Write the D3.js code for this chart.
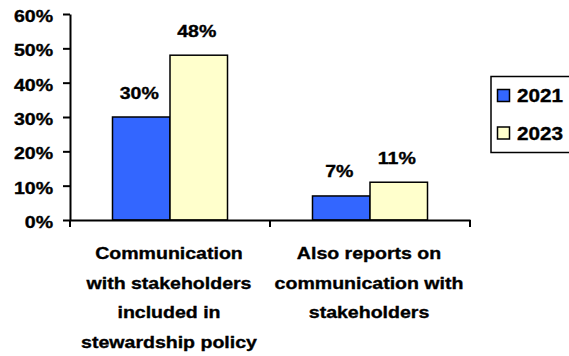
<!DOCTYPE html>
<html>
<head>
<meta charset="utf-8">
<script src="https://cdn.jsdelivr.net/npm/d3@7"></script>
<style>
  html, body { margin: 0; padding: 0; background: #fff; overflow: hidden; }
  svg { display: block; }
  text { font-family: "Liberation Sans", Arial, sans-serif; font-weight: bold; fill: #000; stroke: #000; stroke-width: 0.35px; }
</style>
</head>
<body>
<svg id="chart" width="569" height="356"></svg>
<script>
// Categories, each broken into the lines shown under the axis
const categories = ["stewardship", "reports"];
const categoryLines = [
  ["Communication", "with stakeholders", "included in", "stewardship policy"],
  ["Also reports on", "communication with", "stakeholders"]
];
const seriesNames = ["2021", "2023"];
const values2021 = [30, 7];
const values2023 = [48, 11];
const yTicks = [0, 10, 20, 30, 40, 50, 60];
const seriesColors = ["#3366FF", "#FFFFCC"];

const seriesValues = [values2021, values2023];

const svg = d3.select("#chart");
const fontSize = 17;
const stretch = 1.15;   // widen the bold face horizontally
const place = (px, py) => `translate(${px},${py}) scale(${stretch},1)`;

const x = d3.scaleBand().domain(categories).range([70, 470]).paddingInner(0).paddingOuter(0);
const xInner = d3.scaleBand().domain(seriesNames).range([0, x.bandwidth()]).paddingInner(0).paddingOuter(0.739);
const y = d3.scaleLinear().domain([0, 60]).range([220, 14]);

// Bars
const groups = svg.append("g").selectAll("g")
  .data(categories)
  .join("g")
  .attr("transform", d => `translate(${x(d)},0)`);

groups.selectAll("rect")
  .data((d, i) => seriesNames.map((s, j) => ({ s, v: seriesValues[j][i], j })))
  .join("rect")
  .attr("x", d => xInner(d.s))
  .attr("y", d => y(d.v))
  .attr("width", xInner.bandwidth())
  .attr("height", d => y(0) - y(d.v))
  .attr("fill", d => seriesColors[d.j])
  .attr("stroke", "#000")
  .attr("stroke-width", 1.5);

// Value labels above bars
groups.selectAll("text.val")
  .data((d, i) => seriesNames.map((s, j) => ({ s, v: seriesValues[j][i] })))
  .join("text")
  .attr("class", "val")
  .attr("transform", d => place(xInner(d.s) + xInner.bandwidth() / 2 - 2, y(d.v) - 18.5))
  .attr("text-anchor", "middle")
  .style("font-size", fontSize + "px")
  .text(d => d.v + "%");

// Y axis
const yAxis = svg.append("g")
  .attr("transform", "translate(70,0)")
  .call(d3.axisLeft(y).tickValues(yTicks).tickFormat(d => d + "%").tickSize(7).tickSizeOuter(0));
yAxis.select(".domain").attr("stroke", "#000").attr("stroke-width", 2);
yAxis.selectAll(".tick line").attr("stroke", "#000").attr("stroke-width", 2);
yAxis.selectAll(".tick text")
  .attr("x", 0)
  .attr("dy", null)
  .attr("transform", place(-17, 7.5))
  .style("font-size", fontSize + "px")
  .style("font-family", "\"Liberation Sans\", Arial, sans-serif")
  .style("font-weight", "bold");

// X axis with ticks at category boundaries
const xAxis = svg.append("g")
  .attr("transform", `translate(0,${y(0)})`)
  .call(d3.axisBottom(x).tickSize(0).tickSizeOuter(0).tickFormat(""));
xAxis.select(".domain").attr("stroke", "#000").attr("stroke-width", 2);
const boundaries = categories.map(c => x(c)).concat([x.range()[1]]);
xAxis.selectAll("line.boundary")
  .data(boundaries)
  .join("line")
  .attr("class", "boundary")
  .attr("x1", d => d).attr("x2", d => d)
  .attr("y1", 0).attr("y2", 7)
  .attr("stroke", "#000").attr("stroke-width", 2);

// Category labels
svg.append("g").selectAll("text")
  .data(categories)
  .join("text")
  .attr("text-anchor", "middle")
  .attr("transform", d => place(x(d) + x.bandwidth() / 2 - 1, 0))
  .style("font-size", fontSize + "px")
  .each(function (d, i) {
    const t = d3.select(this);
    categoryLines[i].forEach((line, k) => {
      t.append("tspan")
        .attr("x", 0)
        .attr("y", 259 + k * 29.7)
        .text(line);
    });
  });

// Legend
const legend = svg.append("g");
legend.append("rect")
  .attr("x", 491).attr("y", 76.5)
  .attr("width", 100).attr("height", 76)
  .attr("fill", "#fff").attr("stroke", "#000").attr("stroke-width", 1.5);
const items = legend.selectAll("g")
  .data(seriesNames)
  .join("g")
  .attr("transform", (d, i) => `translate(0,${i * 37.5})`);
items.append("rect")
  .attr("x", 497.5).attr("y", 89.5)
  .attr("width", 12).attr("height", 12)
  .attr("fill", (d, i) => seriesColors[i])
  .attr("stroke", "#000").attr("stroke-width", 1.5);
items.append("text")
  .attr("transform", place(517, 102))
  .style("font-size", "18px")
  .text(d => d);
</script>
</body>
</html>
